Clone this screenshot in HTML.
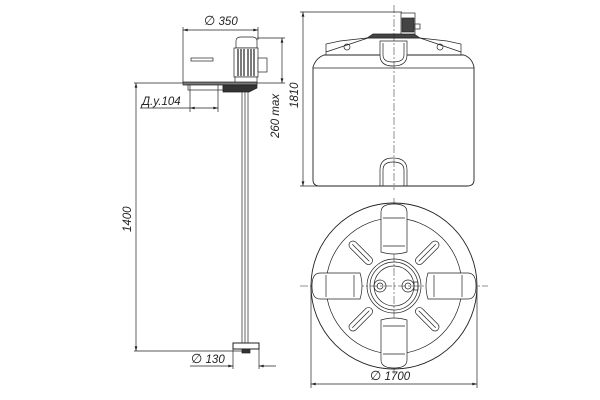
<!DOCTYPE html>
<html><head><style>html,body{margin:0;padding:0;background:#fff}svg{display:block}text{font-family:"Liberation Sans","DejaVu Sans",sans-serif;font-style:italic;font-size:11.5px;fill:#222}</style></head>
<body>
<svg width="600" height="400" viewBox="0 0 600 400" xmlns="http://www.w3.org/2000/svg">
<defs>
<marker id="a" viewBox="0 0 10 6" refX="10" refY="3" markerWidth="8" markerHeight="4" orient="auto-start-reverse"><path d="M0,0L10,3L0,6z" fill="#222"/></marker>
</defs>
<g stroke="#222" stroke-width="0.7" fill="none">
<line x1="183" y1="30" x2="258" y2="30" marker-start="url(#a)" marker-end="url(#a)"/>
<line x1="183" y1="27" x2="183" y2="83"/><line x1="258" y1="27" x2="258" y2="40"/>
<path d="M236,48 L236,41 Q236,37 241,37 L252,37 Q257,37 257,41 L257,48 Z" fill="#fff"/>
<rect x="234" y="48" width="24" height="29" fill="#fff"/>
<g stroke-width="1.2"><line x1="238" y1="49" x2="238" y2="76"/><line x1="241" y1="49" x2="241" y2="76"/><line x1="244" y1="49" x2="244" y2="76"/><line x1="248" y1="49" x2="248" y2="76"/><line x1="251" y1="49" x2="251" y2="76"/><line x1="254" y1="49" x2="254" y2="76"/></g>
<rect x="258" y="58" width="9" height="14" fill="#fff"/>
<rect x="235" y="77" width="22" height="6" fill="#fff"/>
<rect x="191" y="58" width="22" height="3" fill="#fff"/>
<rect x="183" y="82" width="74" height="3" fill="#777"/>
<rect x="188" y="85" width="35" height="5" fill="#fff"/>
<path d="M223,85 L257,85 L257,88 L249,92 L223,92 Z" fill="#333"/>
<line x1="218" y1="85" x2="218" y2="112"/><line x1="190" y1="85" x2="190" y2="112"/>
<rect x="242" y="92" width="6" height="251" fill="#fff"/>
<line x1="245" y1="92" x2="245" y2="343"/>
<rect x="233" y="343" width="26" height="6" fill="#fff" stroke-width="1"/>
<rect x="242" y="349" width="8" height="4" fill="#333"/>
<line x1="140" y1="108" x2="190" y2="108"/>
<line x1="190" y1="108" x2="218" y2="108" marker-start="url(#a)" marker-end="url(#a)"/>
<line x1="136" y1="83" x2="136" y2="351" marker-start="url(#a)" marker-end="url(#a)"/>
<line x1="134" y1="83" x2="183" y2="83"/><line x1="134" y1="351" x2="242" y2="351"/>
<line x1="233" y1="349" x2="233" y2="369"/><line x1="259" y1="349" x2="259" y2="369"/>
<line x1="190" y1="366" x2="233" y2="366" marker-end="url(#a)"/>
<line x1="259" y1="366" x2="276" y2="366" marker-start="url(#a)"/>
<line x1="257" y1="38" x2="285" y2="38"/><line x1="257" y1="83" x2="285" y2="83"/>
<line x1="282" y1="38" x2="282" y2="83" marker-start="url(#a)" marker-end="url(#a)"/>
<line x1="300" y1="12" x2="402" y2="12"/><line x1="300" y1="186" x2="340" y2="186"/>
<line x1="303" y1="12" x2="303" y2="186" marker-start="url(#a)" marker-end="url(#a)"/>
<path d="M313,67 Q316,58 324,55 L464,55 Q472,58 474,67 L474,180 Q474,186 467,186 L320,186 Q313,186 313,180 Z" fill="#fff" stroke-width="0.9"/>
<line x1="313" y1="68" x2="474" y2="68"/>
<path d="M326,55 L326,44 L340,41 L367,38 L420,38 L447,41 L461,44 L461,55" />
<path d="M326,52 L368,38 M461,52 L420,38"/>
<circle cx="347" cy="47" r="3"/><circle cx="440" cy="47" r="3"/>
<path d="M367,38 L373,34 L414,34 L420,38 Z" fill="#444"/>
<rect x="401" y="13" width="14" height="21" fill="#fff"/>
<rect x="402" y="18" width="12" height="14" fill="#444"/>
<rect x="415" y="24" width="5" height="5" fill="#fff"/>
<path d="M380,41 L380,55 Q380,66 393,66 Q407,66 407,55 L407,41 Z" fill="#fff"/>
<path d="M383,43 L383,55 Q383,62 393,62 Q404,62 404,55 L404,43"/>
<path d="M380,186 L380,170 Q380,158 393,158 Q407,158 407,170 L407,186"/>
<path d="M383,186 L383,170 Q383,162 393,162 Q404,162 404,170 L404,186"/>
<line x1="394" y1="5" x2="394" y2="190" stroke-dasharray="8,2,2,2" stroke-width="0.5"/>
<circle cx="394" cy="286" r="83" stroke-width="0.9"/>
<circle cx="394" cy="286" r="68"/>
<line x1="300" y1="286" x2="488" y2="286" stroke-dasharray="8,2,2,2" stroke-width="0.5"/>
<line x1="394" y1="198" x2="394" y2="374" stroke-dasharray="8,2,2,2" stroke-width="0.5"/>
<circle cx="394" cy="286" r="27"/><circle cx="394" cy="286" r="24"/><circle cx="394" cy="286" r="20"/>
<circle cx="380" cy="286" r="6"/><circle cx="380" cy="286" r="3"/>
<circle cx="408" cy="286" r="6"/><circle cx="408" cy="286" r="3"/><rect x="414" y="282" width="4" height="8"/>
<g id="h">
<path d="M381,252 L381,212 Q381,204 394,204 Q407,204 407,212 L407,252 Q394,256 381,252 Z" fill="#fff"/>
<line x1="383" y1="218" x2="405" y2="218"/><line x1="383" y1="246" x2="405" y2="246"/>
</g>
<use href="#h" transform="rotate(90 394 286)"/>
<use href="#h" transform="rotate(180 394 286)"/>
<use href="#h" transform="rotate(270 394 286)"/>
<g id="s"><rect x="390" y="224" width="8" height="30" rx="4" transform="rotate(45 394 286)" fill="#fff"/><line x1="394" y1="227" x2="394" y2="251" transform="rotate(45 394 286)"/></g>
<use href="#s" transform="rotate(90 394 286)"/>
<use href="#s" transform="rotate(180 394 286)"/>
<use href="#s" transform="rotate(270 394 286)"/>
<line x1="311" y1="286" x2="311" y2="388"/><line x1="477" y1="286" x2="477" y2="388"/>
<line x1="311" y1="384" x2="477" y2="384" marker-start="url(#a)" marker-end="url(#a)"/>
</g>
<text x="204" y="25"><tspan font-style="normal" font-size="13">∅</tspan> 350</text>
<text x="142" y="105">Д.у.104</text>
<text transform="translate(131,232) rotate(-90)">1400</text>
<text x="191" y="363"><tspan font-style="normal" font-size="13">∅</tspan> 130</text>
<text transform="translate(279,138) rotate(-90)">260 max</text>
<text transform="translate(298,108) rotate(-90)">1810</text>
<text x="370" y="380"><tspan font-style="normal" font-size="13">∅</tspan> 1700</text>
</svg>
</body></html>
